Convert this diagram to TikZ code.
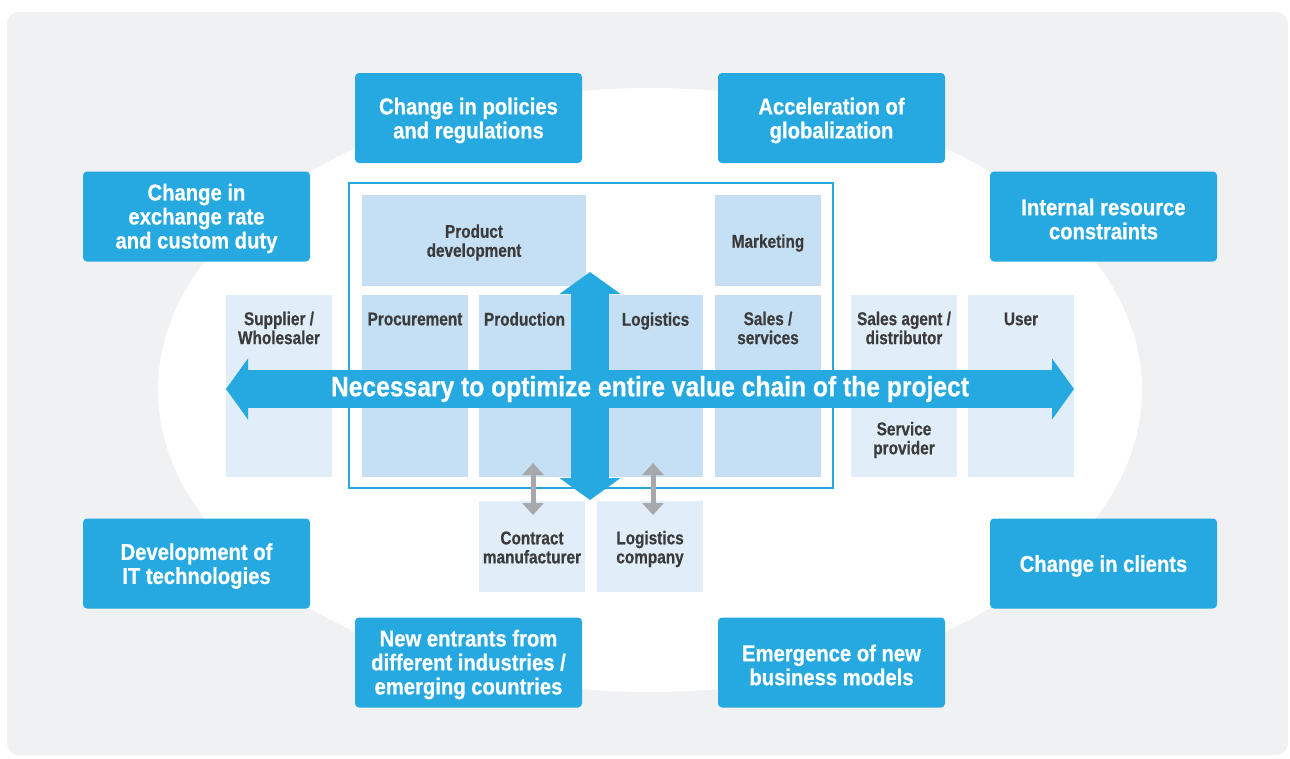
\documentclass[tikz,border=0pt]{standalone}
\usepackage{fontspec}
\setmainfont{Liberation Sans}[FakeStretch=0.88, BoldFeatures={FakeBold=0.6}]
\newfontfamily\cellfont{Liberation Sans}[FakeStretch=0.83, BoldFeatures={FakeBold=0.5}]
\newfontfamily\arrowfont{Liberation Sans}[FakeStretch=0.88, BoldFeatures={FakeBold=0.6}]
\usetikzlibrary{arrows.meta}
\definecolor{bluebox}{HTML}{25A9E0}
\definecolor{cellblue}{HTML}{C5E0F4}
\definecolor{celllight}{HTML}{E1EEF9}
\definecolor{bggray}{HTML}{F0F1F3}
\definecolor{darktext}{HTML}{3B3B3B}
\definecolor{arrowgray}{HTML}{A6A8AB}
\begin{document}
\begin{tikzpicture}[x=1pt,y=-1pt,
  factor/.style={fill=bluebox, rounded corners=4pt, minimum width=227pt, minimum height=90pt, inner sep=0pt},
  ftext/.style={text=white, font=\bfseries\fontsize{23}{24}\selectfont, align=center, inner sep=0pt},
  cell/.style={fill=cellblue, minimum width=106pt, minimum height=182pt, inner sep=0pt},
  lightcell/.style={fill=celllight, minimum width=106pt, minimum height=182pt, inner sep=0pt},
  celltext/.style={text=darktext, font=\cellfont\bfseries\fontsize{18.5}{19}\selectfont, align=center, inner sep=0pt},
  bigarrow/.style={draw=bluebox, line width=38pt, {Triangle[width=60pt,length=22pt]}-{Triangle[width=60pt,length=22pt]}},
  grayarrow/.style={draw=arrowgray, line width=5pt, {Triangle[width=21pt,length=12pt]}-{Triangle[width=21pt,length=12pt]}}
]
\useasboundingbox (0,0) rectangle (1290,758);
\fill[white] (0,0) rectangle (1290,758);
\fill[bggray, rounded corners=12pt] (7,12) rectangle (1288,755);
\fill[white] (650,390) ellipse [x radius=492, y radius=302];

% factor boxes
\node[factor] (policies) at (468.5,118) {};
\node[factor] (glob) at (831.5,118) {};
\node[factor] (exch) at (196.5,216.5) {};
\node[factor] (internal) at (1103.5,216.5) {};
\node[factor] (it) at (196.5,563.5) {};
\node[factor] (clients) at (1103.5,563.5) {};
\node[factor] (entrants) at (468.5,662.5) {};
\node[factor] (emergence) at (831.5,662.5) {};
\node[ftext] (tpolicies) at ([yshift=-2.5pt]policies.center) {Change in policies\\and regulations};
\node[ftext] (tglob) at ([yshift=-2.5pt]glob.center) {Acceleration of\\globalization};
\node[ftext] (texch) at ([yshift=-2pt]exch.center) {Change in\\exchange rate\\and custom duty};
\node[ftext] (tinternal) at ([yshift=-2.5pt]internal.center) {Internal resource\\constraints};
\node[ftext] (tit) at ([yshift=-2.5pt]it.center) {Development of\\IT technologies};
\node[ftext] (tclients) at ([yshift=-2.5pt]clients.center) {Change in clients};
\node[ftext] (tentrants) at ([yshift=-2pt]entrants.center) {New entrants from\\different industries /\\emerging countries};
\node[ftext] (temergence) at ([yshift=-2.5pt]emergence.center) {Emergence of new\\business models};

% frame
\node[draw=bluebox, line width=1.3pt, minimum width=484pt, minimum height=305pt, inner sep=0pt] (frame) at (591,335.5) {};

% cells
\node[cell, minimum width=224pt, minimum height=91pt] (proddev) at (474,240.5) {};
\node[cell, minimum height=91pt] (marketing) at (768,240.5) {};
\node[lightcell] (supplier) at (279,386) {};
\node[cell] (procurement) at (415,386) {};
\node[cell] (production) at (532,386) {};
\node[cell] (logistics) at (650,386) {};
\node[cell] (sales) at (768,386) {};
\node[lightcell] (agent) at (904,386) {};
\node[lightcell] (user) at (1021,386) {};
\node[lightcell, minimum height=91pt] (contract) at (532,546.5) {};
\node[lightcell, minimum height=91pt] (logco) at (650,546.5) {};

% cell texts
\node[celltext] (tproddev) at (474,242.5) {Product\\development};
\node[celltext] (tmarketing) at (768,243) {Marketing};
\node[celltext] (tsupplier) at (279,328) {Supplier /\\Wholesaler};
\node[celltext] (tprocurement) at (415,319) {Procurement};
\node[celltext] (tproduction) at (524.5,319) {Production};
\node[celltext] (tlogistics) at (655.5,321) {Logistics};
\node[celltext] (tsales) at (768,328) {Sales /\\services};
\node[celltext] (tagent) at (904,328) {Sales agent /\\distributor};
\node[celltext] (tservice) at (904,440) {Service\\provider};
\node[celltext] (tuser) at (1021,319) {User};
\node[celltext] (tcontract) at (532,547.5) {Contract\\manufacturer};
\node[celltext] (tlogco) at (650,549) {Logistics\\company};

% big arrows
\coordinate (vtop) at (590,272);
\coordinate (vbot) at (590,500);
\coordinate (hleft) at (226,389);
\coordinate (hright) at (1074,389);
\draw[bigarrow] (vtop) -- (vbot);
\draw[bigarrow] (hleft) -- (hright);
\node[text=white, font=\arrowfont\bfseries\fontsize{28}{30}\selectfont, inner sep=0pt] (main) at (650,389) {Necessary to optimize entire value chain of the project};

% gray arrows
\coordinate (g1a) at (533,463);
\coordinate (g1b) at (533,515);
\coordinate (g2a) at (653,463);
\coordinate (g2b) at (653,515);
\draw[grayarrow] (g1a) -- (g1b);
\draw[grayarrow] (g2a) -- (g2b);
\end{tikzpicture}
\end{document}
